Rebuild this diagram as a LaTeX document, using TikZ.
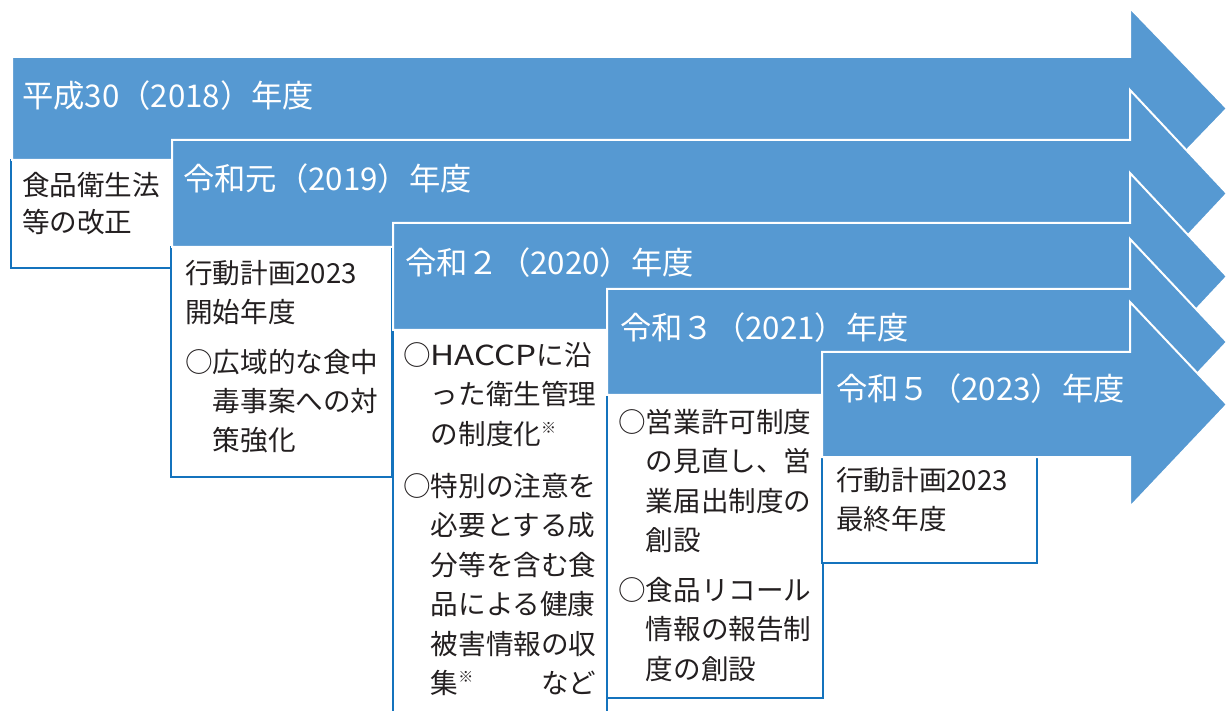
\documentclass[tikz,border=0pt]{standalone}
\usepackage{graphicx}
\usepackage{fontspec}
\newfontfamily\jpf{Noto Sans CJK JP}
\definecolor{arrowblue}{HTML}{5699D2}
\definecolor{lineblue}{HTML}{1473BD}
\definecolor{txtgray}{HTML}{231F20}
\newcommand\kome{{\fontsize{15}{15}\selectfont\raisebox{11pt}{※}}}
\newcommand\haccp{\scalebox{1.2}[1]{HACCP}}
\begin{document}
\begin{tikzpicture}[x=1pt,y=-1pt,
  arr/.style={fill=arrowblue, draw=white, line width=2pt, line join=miter},
  infobox/.style={fill=white, draw=lineblue, line width=2pt},
  yearlbl/.style={anchor=base west, inner sep=0pt, text=white, font=\jpf\fontsize{31.3}{31}\selectfont},
  boxtxt/.style={anchor=base west, inner sep=0pt, text=txtgray}]
\useasboundingbox (0,0) rectangle (1227,711);
% year 1
\path[infobox] (11,160) rectangle (172,268);
\path[arr] (12,57) -- (1130,57) -- (1130,8) -- (1227,108.5) -- (1130,209) -- (1130,160) -- (12,160) -- cycle;
% year 2
\path[infobox] (171,247) rectangle (392,477);
\path[arr] (172,140) -- (1130,140) -- (1130,90) -- (1227,193.5) -- (1130,297) -- (1130,247) -- (172,247) -- cycle;
% year 3
\path[infobox] (393,330) rectangle (607,730);
\path[arr] (393,223) -- (1130,223) -- (1130,173) -- (1227,276.5) -- (1130,380) -- (1130,330) -- (393,330) -- cycle;
% year 4
\path[infobox] (607,395) rectangle (823,698);
\path[arr] (607,289) -- (1130,289) -- (1130,239) -- (1227,342) -- (1130,445) -- (1130,395) -- (607,395) -- cycle;
% year 5
\path[infobox] (822,457) rectangle (1037,563);
\path[arr] (822,352) -- (1130,352) -- (1130,302) -- (1227,404.5) -- (1130,507) -- (1130,457) -- (822,457) -- cycle;
% labels
\node[yearlbl] (y1) at (22,108) {平成30（2018）年度};
\node[yearlbl] (y2) at (183,191) {令和元（2019）年度};
\node[yearlbl] (y3) at (405,275) {令和２（2020）年度};
\node[yearlbl] (y4) at (620,340) {令和３（2021）年度};
\node[yearlbl] (y5) at (836,401) {令和５（2023）年度};
% box texts
\node[boxtxt] (t1) at (22,195.5) {\parbox[t]{150pt}{\jpf\fontsize{27.6}{37}\selectfont 食品衛生法\\等の改正}};
\node[boxtxt] (t2) at (185,283.5) {\parbox[t]{200pt}{\jpf\fontsize{27.6}{39}\selectfont 行動計画2023\\開始年度\\[11pt]○広域的な食中\\　毒事案への対\\　策強化}};
\node[boxtxt] (t3) at (403,365.5) {\parbox[t]{193.2pt}{\jpf\fontsize{27.6}{39.5}\selectfont ○\haccp に沿\\　った衛生管理\\　の制度化\kome\\[12.5pt]○特別の注意を\\　必要とする成\\　分等を含む食\\　品による健康\\　被害情報の収\\　集\kome\hfill など}};
\node[boxtxt] (t4) at (618,432.5) {\parbox[t]{200pt}{\jpf\fontsize{27.6}{39.3}\selectfont ○営業許可制度\\　の見直し、営\\　業届出制度の\\　創設\\[11pt]○食品リコール\\　情報の報告制\\　度の創設}};
\node[boxtxt] (t5) at (836,490.5) {\parbox[t]{190pt}{\jpf\fontsize{27.6}{39}\selectfont 行動計画2023\\最終年度}};
\end{tikzpicture}
\end{document}
